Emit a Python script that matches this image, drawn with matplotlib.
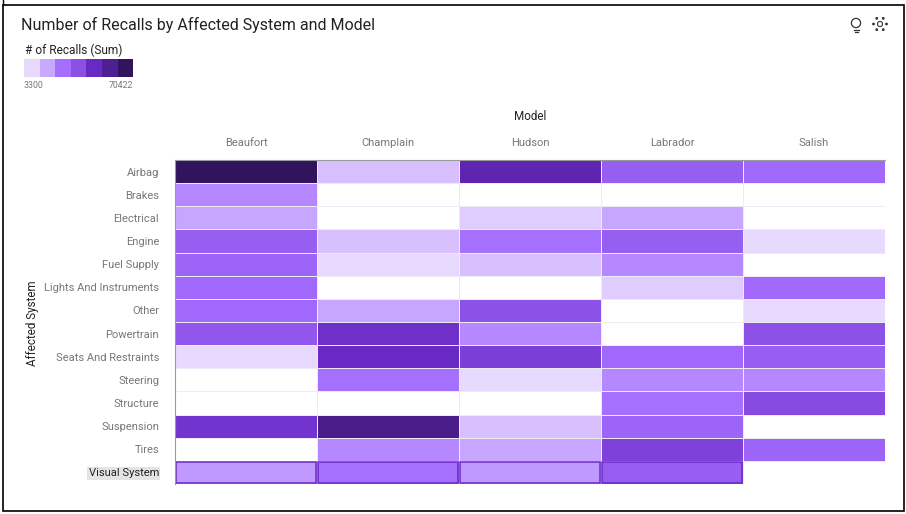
import numpy as np
import matplotlib
matplotlib.use("Agg")
import matplotlib.pyplot as plt
from matplotlib.colors import LinearSegmentedColormap
from matplotlib.patches import Rectangle, Circle

plt.rcParams['font.family'] = ['Roboto', 'DejaVu Sans']

models = ["Beaufort", "Champlain", "Hudson", "Labrador", "Salish"]
systems = ["Airbag", "Brakes", "Electrical", "Engine", "Fuel Supply",
           "Lights And Instruments", "Other", "Powertrain", "Seats And Restraints",
           "Steering", "Structure", "Suspension", "Tires", "Visual System"]

# nan = no recalls, cell stays white
beaufort = [70422, 21400, 16700, 31500, 29500, 27500, 27500, 34000, 3300, np.nan, np.nan, 44900, np.nan, 19000]
champlain = [11000, np.nan, np.nan, 11000, 3300, np.nan, 16700, 46000, 48000, 25400, np.nan, 59200, 21400, 25400]
hudson = [51600, np.nan, 7300, 25400, 11000, np.nan, 36000, 21400, 42000, 3300, np.nan, 11000, 16700, 19000]
labrador = [31500, np.nan, 16700, 31500, 21400, 7300, np.nan, np.nan, 27500, 21400, 25400, 29500, 40900, 31500]
salish = [27500, np.nan, np.nan, 3300, np.nan, 27500, 3300, 36000, 31500, 21400, 38000, np.nan, 29500, np.nan]

vmin = 3300
vmax = 70422
legend_colors = ["#e6d9fc", "#c9a9fd", "#a56eff", "#8a50e4", "#6929c4", "#4c2092", "#31135e"]

cmap = LinearSegmentedColormap.from_list("recalls", ["#e8daff", "#d0b4ff", "#a56eff", "#8a4fe6",
                                                     "#6929c4", "#491d8b", "#31135e"])
cmap.set_bad("white")

W, H = 906, 514
fig = plt.figure(figsize=(W / 100, H / 100), dpi=100)

# overlay in pixel coordinates for the frame, title, legend and icons
bg = fig.add_axes([0, 0, 1, 1], zorder=0)
bg.set_xlim(0, W)
bg.set_ylim(H, 0)
bg.axis("off")
bg.add_patch(Rectangle((2.5, 4.5), 901, 506.5, fill=False, ec="black", lw=1.2))
bg.plot([2.5, 2.5], [0, 5], color="black", lw=1)

bg.text(21, 25, "Number of Recalls by Affected System and Model", fontsize=11.5, color="#222222", va="center")
bg.text(25, 50, "# of Recalls (Sum)", fontsize=8.6, color="#222222", va="center")
for i, c in enumerate(legend_colors):
    bg.add_patch(Rectangle((24 + i * 15.6, 59), 15.6, 18, fc=c, ec="none"))
bg.text(24, 85, str(vmin), fontsize=6.3, color="#777777", va="center")
bg.text(133, 85, str(vmax), fontsize=6.3, color="#777777", va="center", ha="right")

# lightbulb and dots icons
bg.add_patch(Circle((856, 23), 4.6, fill=False, ec="#333333", lw=0.9))
bg.plot([853.5, 858.5], [29.5, 29.5], color="#333333", lw=0.9)
bg.plot([854.5, 857.5], [31.5, 31.5], color="#333333", lw=0.9)
for a in np.arange(0, 360, 60):
    bg.add_patch(Circle((880 + 6.5 * np.cos(np.radians(a)), 24 + 6.5 * np.sin(np.radians(a))), 1.4, fc="#333333", ec="none"))
bg.add_patch(Circle((880, 24), 2.6, fill=False, ec="#333333", lw=0.8))

# heatmap
ax = fig.add_axes([175 / W, 1 - 484 / H, 710 / W, 324 / H], zorder=1)
values = np.ma.masked_invalid(np.array([beaufort, champlain, hudson, labrador, salish]).T)
ax.pcolormesh(values, cmap=cmap, vmin=vmin, vmax=vmax, edgecolors="#eeeaf5", linewidth=0.6)
ax.invert_yaxis()
ax.xaxis.tick_top()
ax.set_xticks(np.arange(len(models)) + 0.5, models)
ax.set_yticks(np.arange(len(systems)) + 0.5, systems)
ax.tick_params(length=0, labelsize=8.0, labelcolor="#777777")
ax.tick_params(axis="x", pad=9)
ax.tick_params(axis="y", pad=11.5)
ax.set_xlabel("Model", fontsize=8.4, color="#222222", labelpad=12.5)
ax.xaxis.set_label_position("top")
ax.set_ylabel("Affected System", fontsize=8.4, color="#222222")
ax.yaxis.set_label_coords(-0.191, 0.497)
for name, sp in ax.spines.items():
    sp.set_visible(name in ("top", "left"))
    sp.set_color("#9a9a9a")
    sp.set_linewidth(0.8)

# selected row
selected = systems.index("Visual System")
for j, v in enumerate(values[selected]):
    if v is not np.ma.masked:
        ax.add_patch(Rectangle((j + 0.005, selected + 0.03), 0.99, 0.94, fill=False, ec="#6929c4", lw=1.1))
lab = ax.get_yticklabels()[selected]
lab.set_color("#222222")
lab.set_bbox(dict(fc="#e4e4e4", ec="none", pad=1))

fig.savefig("out.png", dpi=100)
